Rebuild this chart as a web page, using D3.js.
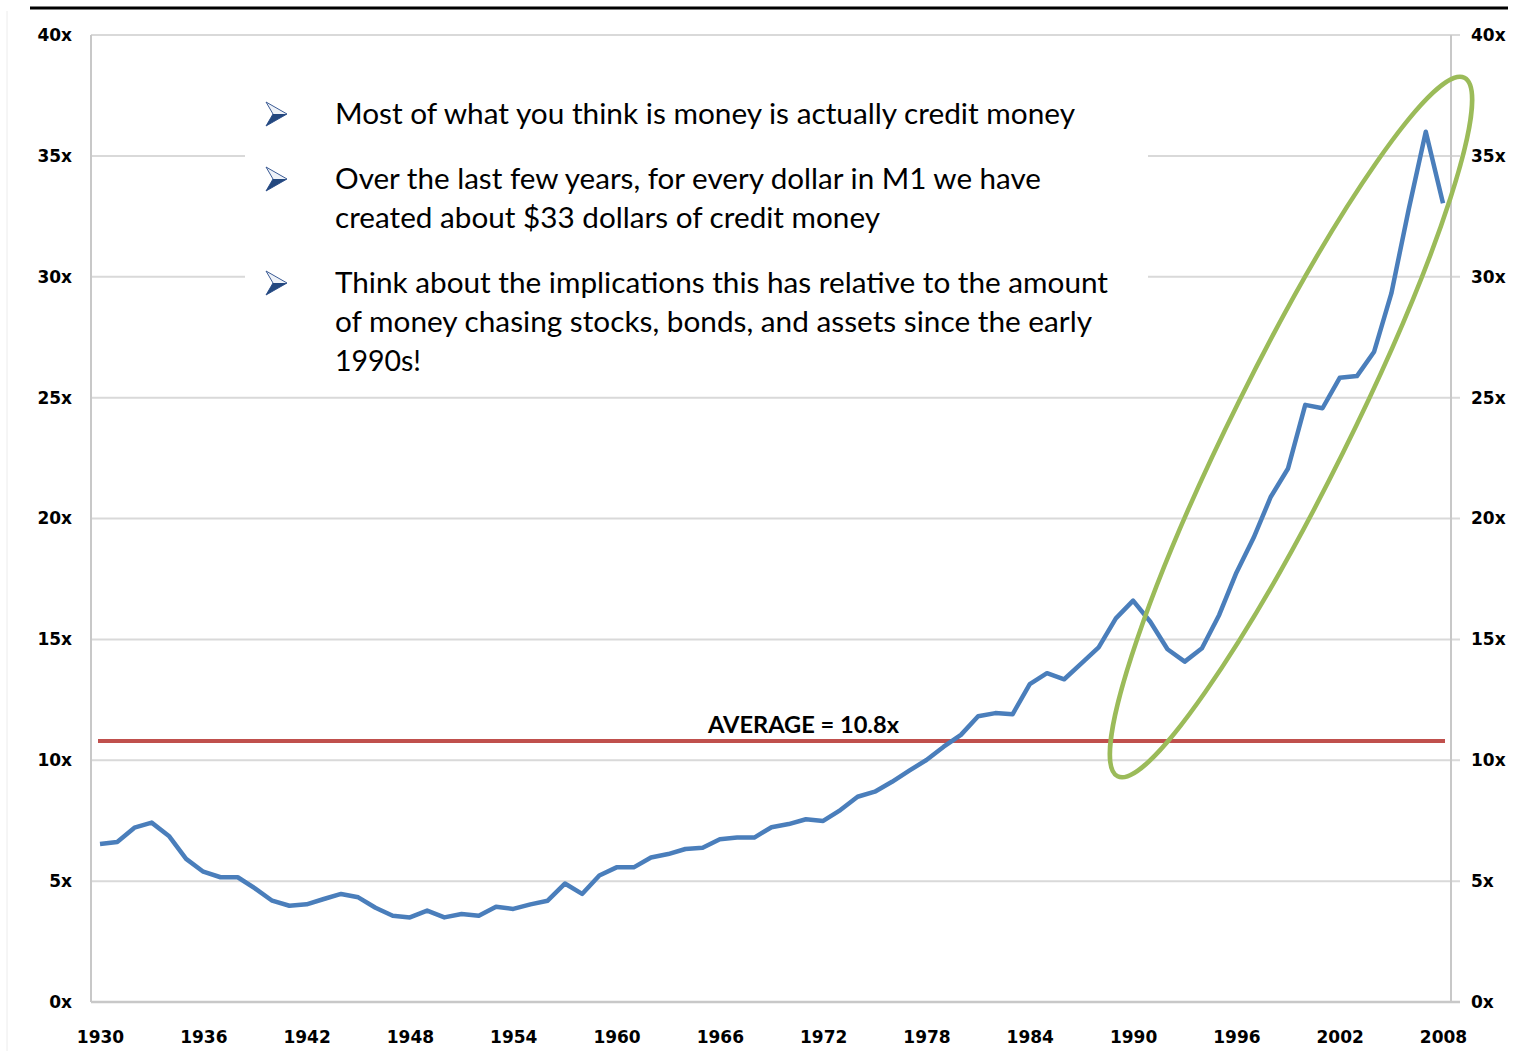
<!DOCTYPE html>
<html>
<head>
<meta charset="utf-8">
<script src="https://cdn.jsdelivr.net/npm/d3@7"></script>
<style>
  html, body { margin: 0; padding: 0; background: #fff; }
  svg { display: block; }
</style>
</head>
<body>
<svg id="chart" width="1516" height="1051"></svg>
<script>
// ---------- data ----------
const years = d3.range(1930, 2009);
const ratio = [
  6.54, 6.62, 7.21, 7.42, 6.87, 5.92, 5.39, 5.16, 5.16, 4.70,   // 1930-1939
  4.19, 3.98, 4.04, 4.26, 4.47, 4.33, 3.90, 3.57, 3.50, 3.78,   // 1940-1949
  3.50, 3.64, 3.57, 3.94, 3.85, 4.04, 4.19, 4.90, 4.47, 5.23,   // 1950-1959
  5.57, 5.57, 5.98, 6.12, 6.33, 6.38, 6.73, 6.80, 6.80, 7.23,   // 1960-1969
  7.36, 7.56, 7.49, 7.94, 8.49, 8.70, 9.11, 9.57, 10.01, 10.56, // 1970-1979
  11.05, 11.82, 11.95, 11.90, 13.15, 13.60, 13.35, 14.01, 14.67, 15.87, // 1980-1989
  16.60, 15.73, 14.59, 14.08, 14.63, 16.01, 17.76, 19.20, 20.90, 22.07, // 1990-1999
  24.70, 24.56, 25.82, 25.89, 26.90, 29.31, 32.76, 36.00, 33.04          // 2000-2008
];
const average = 10.8;
const averageLabel = "AVERAGE = 10.8x";
const yTicks = [0, 5, 10, 15, 20, 25, 30, 35, 40];
const xTicks = [1930, 1936, 1942, 1948, 1954, 1960, 1966, 1972, 1978, 1984, 1990, 1996, 2002, 2008];
const bullets = [
  ["Most of what you think is money is actually credit money"],
  ["Over the last few years, for every dollar in M1 we have", "created about $33 dollars of credit money"],
  ["Think about the implications this has relative to the amount", "of money chasing stocks, bonds, and assets since the early", "1990s!"]
];

// ---------- layout ----------
const svg = d3.select("#chart");
const plotL = 91, plotR = 1451, plotT = 35, plotB = 1002;
const x = d3.scaleLinear().domain([1930, 2008]).range([100, 1443]);
const y = d3.scaleLinear().domain([0, 40]).range([plotB, plotT]);

// frame decorations
svg.append("line").attr("x1", 30).attr("x2", 1508).attr("y1", 8).attr("y2", 8)
  .attr("stroke", "#000").attr("stroke-width", 3);
svg.append("line").attr("x1", 7).attr("x2", 7).attr("y1", 11).attr("y2", 1051)
  .attr("stroke", "#ececec").attr("stroke-width", 1);

// gridlines
svg.append("g").selectAll("line").data(yTicks.filter(d => d > 0)).join("line")
  .attr("x1", plotL).attr("x2", plotR + 9)
  .attr("y1", d => y(d)).attr("y2", d => y(d))
  .attr("stroke", "#d9d9d9").attr("stroke-width", 2);

// axes lines
svg.append("line").attr("x1", plotL).attr("x2", plotL).attr("y1", plotT).attr("y2", plotB)
  .attr("stroke", "#c8c8c8").attr("stroke-width", 2);
svg.append("line").attr("x1", plotR).attr("x2", plotR).attr("y1", plotT).attr("y2", plotB)
  .attr("stroke", "#c8c8c8").attr("stroke-width", 2);
svg.append("line").attr("x1", plotL).attr("x2", plotR + 9).attr("y1", plotB).attr("y2", plotB)
  .attr("stroke", "#c8c8c8").attr("stroke-width", 2.5);

// axis labels
const fmt = d => d + "x";
const leftAxis = d3.axisLeft(y).tickValues(yTicks).tickFormat(fmt).tickSize(0).tickPadding(19);
const gl = svg.append("g").attr("transform", `translate(${plotL},0)`).call(leftAxis);
const rightAxis = d3.axisRight(y).tickValues(yTicks).tickFormat(fmt).tickSize(0).tickPadding(20);
const gr = svg.append("g").attr("transform", `translate(${plotR},0)`).call(rightAxis);
const bottomAxis = d3.axisBottom(x).tickValues(xTicks).tickFormat(d3.format("d")).tickSize(0).tickPadding(29);
const gb = svg.append("g").attr("transform", `translate(0,${plotB})`).call(bottomAxis);
[gl, gr, gb].forEach(g => {
  g.select(".domain").remove();
  g.selectAll("text").attr("font-family", "'DejaVu Sans', sans-serif")
    .attr("font-weight", "bold").attr("font-size", 17).attr("fill", "#000");
});

// text box (white) covering the gridlines
svg.append("rect").attr("x", 245).attr("y", 70).attr("width", 903).attr("height", 318).attr("fill", "#fff");

// bullets
const tb = svg.append("g");
const bulletY = [114, 179, 283];
const lineGap = 39;
const lineWidths = [[740], [706, 545], [773, 757, 86]];
bullets.forEach((lines, i) => {
  const cy = bulletY[i];
  const a = tb.append("g").attr("transform", `translate(266,${cy})`);
  a.append("path").attr("d", "M0,-12 L21,0 L0,12 L7,0 Z")
    .attr("fill", "#eef2f8").attr("stroke", "#3a5a94").attr("stroke-width", 1);
  a.append("path").attr("d", "M7,0 L21,0 L0,12 Z").attr("fill", "#23487f");
  lines.forEach((t, j) => {
    tb.append("text").attr("x", 335).attr("y", cy + 10 + j * lineGap)
      .attr("font-family", "Lato, 'Open Sans', sans-serif").attr("font-size", 28)
      .attr("fill", "#000")
      .attr("textLength", lineWidths[i][j]).attr("lengthAdjust", "spacingAndGlyphs")
      .text(t);
  });
});

// average line
svg.append("line")
  .attr("x1", x(1930)).attr("x2", x(2008))
  .attr("y1", y(average)).attr("y2", y(average))
  .attr("stroke", "#c0504d").attr("stroke-width", 4).attr("stroke-linecap", "square");
svg.append("text").attr("x", 708).attr("y", y(average) - 8)
  .attr("font-family", "Lato, 'Open Sans', sans-serif").attr("font-weight", "bold")
  .attr("font-size", 23).attr("fill", "#000")
  .attr("textLength", 191).attr("lengthAdjust", "spacingAndGlyphs")
  .text(averageLabel);

// series line
const series = years.map((yr, i) => ({ year: yr, v: ratio[i] }));
svg.append("path").datum(series)
  .attr("fill", "none").attr("stroke", "#4a7ebb").attr("stroke-width", 4.5)
  .attr("stroke-linejoin", "round")
  .attr("d", d3.line().x(d => x(d.year)).y(d => y(d.v)));

// highlight ellipse
svg.append("ellipse")
  .attr("cx", 0).attr("cy", 0).attr("rx", 390).attr("ry", 58)
  .attr("transform", "translate(1291,427) rotate(-63.6)")
  .attr("fill", "none").attr("stroke", "#9bbb59").attr("stroke-width", 4.5);
</script>
</body>
</html>
